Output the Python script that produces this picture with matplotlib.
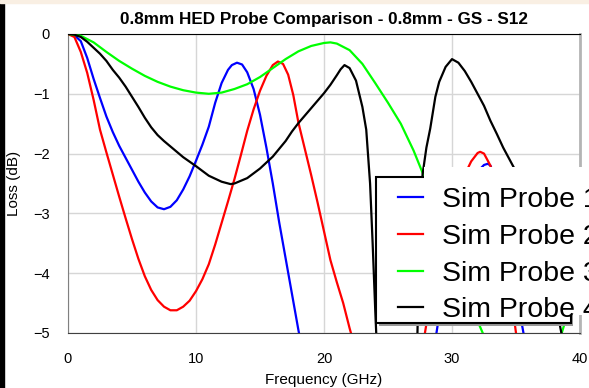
import matplotlib
matplotlib.use("Agg")
import matplotlib.pyplot as plt
from matplotlib.patches import Rectangle

plt.rcParams['font.family'] = ['Liberation Sans', 'DejaVu Sans']

title = "0.8mm HED Probe Comparison - 0.8mm - GS - S12"
labels = ["Sim Probe 1", "Sim Probe 2", "Sim Probe 3", "Sim Probe 4"]
colors = ["#0000ff", "#ff0000", "#00ff00", "#000000"]

# frequency (GHz) / loss (dB), values below -5 are off scale
f_blue = [0, 0.5, 1, 1.5, 2, 2.5, 3, 3.5, 4, 4.5, 5, 5.5, 6, 6.5, 7, 7.5, 8, 8.5, 9, 9.5, 10,
          10.5, 11, 11.5, 12, 12.5, 12.8, 13.2, 13.6, 14, 14.5, 15, 15.5, 16, 16.5, 17, 17.5,
          18, 18.5, 20, 23, 26, 28, 28.5, 29, 29.5, 30, 30.5, 31, 31.5, 32, 32.5, 32.8, 33,
          33.5, 34, 34.5, 35, 35.5, 36, 38, 40]
l_blue = [0, -0.02, -0.12, -0.4, -0.75, -1.07, -1.38, -1.64, -1.87, -2.07, -2.27, -2.47, -2.65,
          -2.8, -2.9, -2.93, -2.89, -2.78, -2.6, -2.38, -2.12, -1.85, -1.55, -1.15, -0.82,
          -0.6, -0.52, -0.48, -0.51, -0.64, -0.92, -1.35, -1.9, -2.5, -3.15, -3.75, -4.35,
          -4.95, -5.5, -7, -9, -9, -6.2, -5.4, -4.7, -4.1, -3.6, -3.15, -2.8, -2.5, -2.3,
          -2.19, -2.17, -2.2, -2.45, -3.0, -3.7, -4.35, -4.9, -5.5, -8, -9]

f_red = [0, 0.5, 1, 1.5, 2, 2.5, 3, 3.5, 4, 4.5, 5, 5.5, 6, 6.5, 7, 7.5, 8, 8.5, 9, 9.5, 10,
         10.5, 11, 11.5, 12, 12.5, 13, 13.5, 14, 14.5, 15, 15.5, 16, 16.4, 16.8, 17.2, 17.6, 18,
         18.5, 19, 19.5, 20, 20.5, 21, 21.5, 22, 22.5, 23, 25, 27, 27.5, 28, 28.5, 29, 29.5,
         30, 30.5, 31, 31.5, 32, 32.2, 32.5, 33, 33.5, 34, 34.5, 35, 35.5, 37, 40]
l_red = [0, -0.05, -0.3, -0.65, -1.1, -1.6, -1.98, -2.35, -2.72, -3.08, -3.43, -3.76, -4.05,
         -4.28, -4.45, -4.56, -4.62, -4.62, -4.56, -4.46, -4.3, -4.1, -3.85, -3.52, -3.16,
         -2.8, -2.43, -2.03, -1.62, -1.26, -0.95, -0.7, -0.52, -0.46, -0.5, -0.68, -1.02,
         -1.48, -1.92, -2.36, -2.82, -3.3, -3.78, -4.15, -4.5, -4.92, -5.3, -5.8, -9, -6.5,
         -5.5, -4.85, -4.3, -3.8, -3.35, -2.95, -2.6, -2.35, -2.13, -1.99, -1.97, -2.0, -2.2,
         -2.65, -3.4, -4.2, -5.0, -5.8, -9, -8]

f_green = [0, 1, 2, 3, 4, 5, 6, 7, 8, 9, 10, 11, 12, 13, 14, 15, 16, 17, 18, 19, 20, 20.5, 21,
           22, 23, 24, 25, 26, 27, 27.7, 28, 28.5, 29, 29.5, 30, 30.5, 31, 31.5, 32, 32.5, 33,
           34, 35, 36, 37, 38, 38.5, 39, 40]
l_green = [0, -0.03, -0.14, -0.3, -0.45, -0.58, -0.7, -0.8, -0.88, -0.94, -0.98, -1.0, -0.98,
           -0.92, -0.84, -0.72, -0.57, -0.42, -0.29, -0.2, -0.15, -0.14, -0.16, -0.27, -0.5,
           -0.82, -1.15, -1.5, -1.95, -2.32, -2.5, -2.8, -3.1, -3.4, -3.7, -4.0, -4.3, -4.55,
           -4.8, -5.05, -5.4, -6.5, -8, -7.5, -6.3, -5.4, -5.05, -4.7, -4.2]

f_black = [0, 0.5, 1, 1.5, 2, 2.5, 3, 3.5, 4, 4.5, 5, 5.5, 6, 6.5, 7, 7.5, 8, 9, 10, 11, 12,
           12.7, 13, 14, 15, 16, 17, 17.5, 18, 19, 20, 20.5, 21, 21.3, 21.6, 22, 22.5, 23, 23.3,
           23.6, 23.8, 24, 24.2, 25, 26, 27, 27.3, 27.5, 27.7, 28, 28.3, 28.7, 29, 29.5, 30,
           30.5, 31, 31.5, 32, 32.5, 33, 33.5, 34, 34.5, 35, 36, 37, 38, 39, 40]
l_black = [0, -0.01, -0.05, -0.13, -0.23, -0.33, -0.45, -0.6, -0.73, -0.88, -1.05, -1.22,
           -1.4, -1.56, -1.69, -1.79, -1.88, -2.06, -2.21, -2.37, -2.47, -2.51, -2.5, -2.41,
           -2.25, -2.05, -1.79, -1.63, -1.49, -1.24, -0.99, -0.85, -0.69, -0.59, -0.52, -0.57,
           -0.78, -1.22, -1.6, -2.5, -3.5, -4.6, -5.6, -8, -9, -6.5, -5.0, -3.2, -2.35, -1.9,
           -1.58, -1.05, -0.8, -0.55, -0.42, -0.48, -0.62, -0.8, -1.0, -1.2, -1.45, -1.67,
           -1.9, -2.1, -2.3, -2.8, -3.5, -4.4, -5.5, -7]

W, H = 589, 388
fig = plt.figure(figsize=(W / 100, H / 100), dpi=100)
fig.patch.set_facecolor("white")

def fx(px):
    return px / W

def fy(py):
    return 1 - py / H

# window decoration: black bar on the left, cream band on top
fig.patches.append(Rectangle((0, 0), fx(4), 1, transform=fig.transFigure,
                             color="black", zorder=0))
fig.patches.append(Rectangle((0, fy(3)), 1, 3 / H, transform=fig.transFigure,
                             color="#f9efe3", zorder=0))

ax = fig.add_axes([fx(68), fy(333), fx(580 - 68), (333 - 34) / H])
series = [(f_blue, l_blue), (f_red, l_red), (f_green, l_green), (f_black, l_black)]
handles = []
for (f, l), c, lab in zip(series, colors, labels):
    h, = ax.plot(f, l, color=c, lw=1.6, label=lab, zorder=3)
    handles.append(h)

ax.set_xlim(0, 40)
ax.set_ylim(-5, 0)
ax.set_xticks([0, 10, 20, 30, 40])
ax.set_yticks([0, -1, -2, -3, -4, -5])
ax.grid(True, color="#d6d6d6", lw=1)
ax.set_axisbelow(True)
ax.tick_params(length=0, labelsize=10.5)
ax.tick_params(axis="y", pad=13)
ax.tick_params(axis="x", pad=14)
ax.spines["left"].set_color("#808080")
ax.spines["bottom"].set_color("#404040")
ax.spines["top"].set_color("#000000")
ax.spines["right"].set_color("#b4b4b4")
ax.spines["right"].set_linewidth(2)

ax.set_title(title, fontsize=12.3, fontweight="bold", pad=7)
ax.set_xlabel("Frequency (GHz)", fontsize=11, labelpad=5)
ax.set_ylabel("Loss (dB)", fontsize=11, labelpad=9)

# legend box with shadow, text background overflows to the right
fig.patches.append(Rectangle((fx(379), fy(326)), fx(573 - 379), (326 - 180) / H,
                             transform=fig.transFigure, facecolor="#9a9a9a",
                             edgecolor="none", zorder=5))
fig.patches.append(Rectangle((fx(376), fy(323)), fx(571 - 376), (323 - 177) / H,
                             transform=fig.transFigure, facecolor="white",
                             edgecolor="black", lw=1.5, zorder=6))
fig.patches.append(Rectangle((fx(424), fy(315)), fx(W - 424 + 20), (315 - 167) / H,
                             transform=fig.transFigure, facecolor="white",
                             edgecolor="none", zorder=7))

leg = fig.legend(handles=handles, labels=labels, loc="upper left",
                 bbox_to_anchor=(fx(398), fy(187)), frameon=False, borderpad=0,
                 borderaxespad=0, fontsize=20.5, handlelength=0.88,
                 handletextpad=0.67, labelspacing=0.38)
leg.set_zorder(8)

fig.savefig("out.png", dpi=100)
